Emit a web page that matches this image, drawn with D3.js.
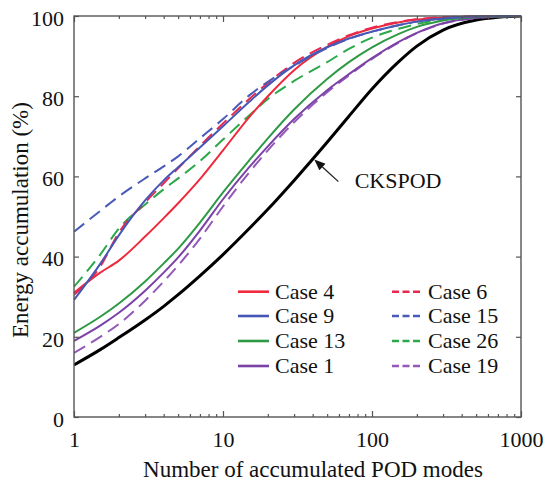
<!DOCTYPE html>
<html>
<head>
<meta charset="utf-8">
<script src="https://cdn.jsdelivr.net/npm/d3@7"></script>
<style>
  html, body { margin: 0; padding: 0; background: #fff; }
  svg { display: block; font-family: "Liberation Serif", "Times New Roman", serif; }
</style>
</head>
<body>
<svg id="chart" width="544" height="481"></svg>
<script>
// ---- data ----
const modes = [1, 1.5, 2, 3, 4, 5, 7, 10, 15, 20, 30, 50, 70, 100, 150, 200, 300, 500, 700, 1000];

const case4  = [31, 36, 39, 45, 49.6, 53.3, 59.3, 66.5, 74.8, 80, 86.5, 92.3, 95, 96.9, 98.4, 99.1, 99.6, 99.9, 100, 100];
const case9  = [29.2, 38.2, 45.3, 54, 59, 62.3, 67.2, 72.5, 78.6, 82.7, 87.7, 92.2, 94.4, 96.1, 97.7, 98.6, 99.4, 99.85, 99.95, 100];
const case13 = [21, 25, 28.3, 33.8, 38.3, 42, 48.5, 56, 64, 69.5, 76.7, 84.3, 88.5, 92.2, 95.5, 97.3, 98.9, 99.7, 99.9, 100];
const case1  = [19, 22.8, 26, 31.5, 36, 39.8, 46.5, 54.3, 62.3, 67.5, 74.3, 81.5, 85.5, 89.5, 93.5, 95.8, 98.2, 99.5, 99.85, 100];
const case6  = [30.5, 37.5, 46, 53.5, 58.3, 62, 67.6, 73.2, 79.3, 83.3, 88.3, 92.8, 95.2, 97.1, 98.5, 99.2, 99.7, 99.9, 100, 100];
const case15 = [46.2, 51.4, 55, 59.5, 62.5, 65, 69.5, 74.3, 80.2, 83.6, 87.6, 92, 94.3, 96.1, 97.7, 98.6, 99.4, 99.85, 99.95, 100];
const case26 = [32.5, 40.5, 47, 53, 56.8, 59.5, 63.8, 69.2, 75.2, 79.3, 83.8, 88.5, 91.8, 94.6, 96.8, 98, 99.2, 99.8, 99.95, 100];
const case19 = [16, 20, 23.2, 29, 33.8, 37.8, 44.5, 52.5, 61, 66.5, 73.5, 81, 85.2, 89.3, 93.3, 95.7, 98.1, 99.5, 99.85, 100];
const ckspod = [13, 16.8, 19.8, 24.2, 27.6, 30.5, 35.2, 40.5, 47, 51.8, 59, 68.5, 75, 81.8, 88.5, 92.5, 96.5, 99, 99.7, 100];

const seriesNames  = ["Case 4", "Case 9", "Case 13", "Case 1", "Case 6", "Case 15", "Case 26", "Case 19"];
const seriesValues = [case4, case9, case13, case1, case6, case15, case26, case19];
const seriesColors = ["#ee2a3c", "#4656b4", "#2e9a45", "#7a42a6", "#e8284e", "#4a5ab8", "#2aa84a", "#9358b8"];
const seriesDashed = [false, false, false, false, true, true, true, true];

const xMajorTicks = [1, 10, 100, 1000];
const xMinorTicks = [2,3,4,5,6,7,8,9,20,30,40,50,60,70,80,90,200,300,400,500,600,700,800,900];
const yTicks = [0, 20, 40, 60, 80, 100];

const annotation = { text: "CKSPOD", tip: [41, 64.2], tail: [59.5, 58.7], label: [76.5, 57.1] };

// ---- layout ----
const svg = d3.select("#chart");
const L = 74, R = 521, T = 16, B = 417;
const x = d3.scaleLog().domain([1, 1000]).range([L, R]);
const y = d3.scaleLinear().domain([0, 100]).range([B, T]);
const axisColor = "#555";

svg.append("defs").append("clipPath").attr("id", "plotclip")
  .append("rect").attr("x", L).attr("y", T - 1).attr("width", R - L).attr("height", B - T + 1);

// ---- curves ----
const line = d3.line().x(d => x(d[0])).y(d => y(d[1])).curve(d3.curveMonotoneX);
const g = svg.append("g").attr("clip-path", "url(#plotclip)");

g.append("path")
  .datum(modes.map((m, i) => [m, ckspod[i]]))
  .attr("d", line).attr("fill", "none").attr("stroke", "#000").attr("stroke-width", 3);

const order = [7, 6, 3, 2, 0, 4, 1, 5];
order.forEach(k => {
  g.append("path")
    .datum(modes.map((m, i) => [m, seriesValues[k][i]]))
    .attr("d", line)
    .attr("fill", "none")
    .attr("stroke", seriesColors[k])
    .attr("stroke-width", 2)
    .attr("stroke-dasharray", seriesDashed[k] ? "13,7" : null);
});

// ---- axes & frame ----
function styleAxis(sel) {
  sel.select(".domain").remove();
  sel.selectAll(".tick line").attr("stroke", axisColor).attr("stroke-width", 1.2);
  sel.selectAll("text").attr("fill", "#111").style("font-size", "22px")
    .style("font-family", '"Liberation Serif", "Times New Roman", serif');
}
const xb = svg.append("g").attr("transform", `translate(0,${B})`)
  .call(d3.axisBottom(x).tickValues(xMajorTicks).tickFormat(d3.format("d")).tickSize(-6).tickPadding(14));
styleAxis(xb);
const xbm = svg.append("g").attr("transform", `translate(0,${B})`)
  .call(d3.axisBottom(x).tickValues(xMinorTicks).tickFormat("").tickSize(-3));
styleAxis(xbm);
const xt = svg.append("g").attr("transform", `translate(0,${T})`)
  .call(d3.axisTop(x).tickValues(xMajorTicks).tickFormat("").tickSize(-6));
styleAxis(xt);
const xtm = svg.append("g").attr("transform", `translate(0,${T})`)
  .call(d3.axisTop(x).tickValues(xMinorTicks).tickFormat("").tickSize(-3));
styleAxis(xtm);
const yl = svg.append("g").attr("transform", `translate(${L},0)`)
  .call(d3.axisLeft(y).tickValues(yTicks).tickFormat(d3.format("d")).tickSize(-5).tickPadding(10));
styleAxis(yl);
yl.selectAll("text").attr("dy", "0.42em");
const yr = svg.append("g").attr("transform", `translate(${R},0)`)
  .call(d3.axisRight(y).tickValues(yTicks).tickFormat("").tickSize(-5));
styleAxis(yr);

svg.append("rect").attr("x", L).attr("y", T).attr("width", R - L).attr("height", B - T)
  .attr("fill", "none").attr("stroke", axisColor).attr("stroke-width", 1.4);

// ---- titles ----
svg.append("text").attr("x", 313).attr("y", 477).attr("text-anchor", "middle")
  .style("font-size", "23px").attr("fill", "#111").text("Number of accumulated POD modes");
svg.append("text").attr("transform", "translate(28,220) rotate(-90)").attr("text-anchor", "middle")
  .style("font-size", "23px").attr("fill", "#111").text("Energy accumulation (%)");

// ---- annotation ----
const tip = [x(annotation.tip[0]), y(annotation.tip[1])];
const tail = [x(annotation.tail[0]), y(annotation.tail[1])];
const ang = Math.atan2(tip[1] - tail[1], tip[0] - tail[0]);
const hl = 11, hw = 4.5;
const base = [tip[0] - hl * Math.cos(ang), tip[1] - hl * Math.sin(ang)];
svg.append("line").attr("x1", tail[0]).attr("y1", tail[1]).attr("x2", base[0]).attr("y2", base[1])
  .attr("stroke", "#222").attr("stroke-width", 1.3);
svg.append("path").attr("d", d3.line()([
  tip,
  [base[0] + hw * Math.sin(ang), base[1] - hw * Math.cos(ang)],
  [base[0] - hw * Math.sin(ang), base[1] + hw * Math.cos(ang)]
]) + "Z").attr("fill", "#111");
svg.append("text").attr("x", x(annotation.label[0])).attr("y", y(annotation.label[1]))
  .style("font-size", "22px").attr("fill", "#111").text(annotation.text);

// ---- legend ----
const legRowY = [291.7, 316, 341, 366];
const legCols = [{ x1: 238, x2: 269, tx: 275 }, { x1: 392, x2: 420, tx: 428 }];
seriesNames.forEach((name, k) => {
  const col = legCols[k < 4 ? 0 : 1];
  const ry = legRowY[k % 4];
  svg.append("line").attr("x1", col.x1).attr("x2", col.x2).attr("y1", ry).attr("y2", ry)
    .attr("stroke", seriesColors[k]).attr("stroke-width", 2.6)
    .attr("stroke-dasharray", seriesDashed[k] ? "7,3.5" : null);
  svg.append("text").attr("x", col.tx).attr("y", ry + 7.3)
    .style("font-size", "22px").attr("fill", "#111").text(name);
});
</script>
</body>
</html>
